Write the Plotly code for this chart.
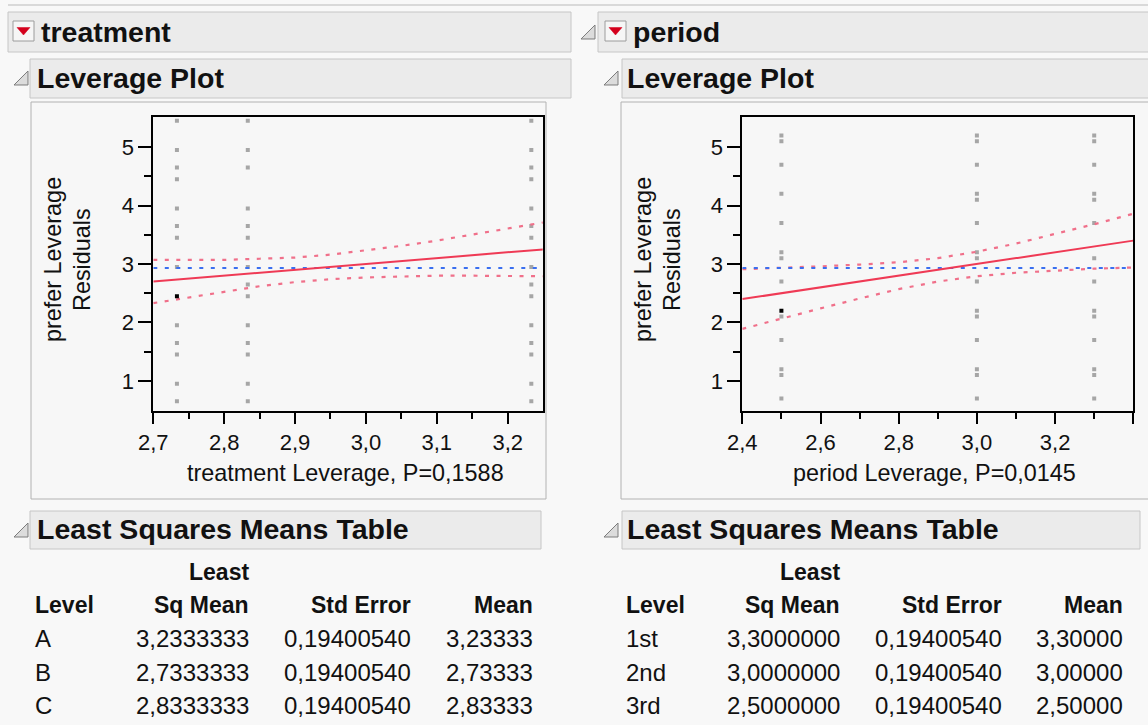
import plotly.graph_objects as go

W, H = 1148, 725
FONT = "Liberation Sans, Arial, sans-serif"


def px(x):
    return x / W


def py(y):
    return 1 - y / H


# ---------------- data ----------------
# treatment leverage plot: x positions of the three levels (B, C, A least squares means)
treat_x_levels = [2.7333333, 2.8333333, 3.2333333]
treat_points_B = [5.45, 4.95, 4.65, 4.45, 3.95, 3.65, 3.45, 2.95, 1.95, 1.65, 1.45, 0.95, 0.65]
treat_points_C = [5.45, 4.95, 4.65, 3.95, 3.65, 3.45, 2.95, 2.65, 2.45, 1.95, 1.65, 1.45, 0.95, 0.65]
treat_points_A = [5.45, 4.95, 4.65, 4.45, 3.95, 3.65, 3.45, 2.95, 2.65, 2.45, 1.95, 1.65, 1.45, 0.95, 0.65]
treat_sel_x = [2.7333333]
treat_sel_y = [2.45]
treat_fit_x = [2.70, 3.25]
treat_fit_y = [2.70, 3.25]
treat_mean_y = 2.9333333
treat_ci_x = [2.70, 2.75, 2.80, 2.85, 2.90, 2.95, 3.00, 3.05, 3.10, 3.15, 3.20, 3.25]
treat_ci_upper = [3.07, 3.07, 3.07, 3.09, 3.11, 3.16, 3.23, 3.31, 3.40, 3.50, 3.61, 3.71]
treat_ci_lower = [2.33, 2.43, 2.53, 2.62, 2.69, 2.74, 2.77, 2.79, 2.80, 2.80, 2.79, 2.79]
treat_p = 0.1588

# period leverage plot: x positions of the three levels (3rd, 2nd, 1st)
period_x_levels = [2.5, 3.0, 3.3]
period_points_3rd = [5.2, 5.1, 4.7, 4.2, 3.7, 3.2, 3.1, 2.7, 2.1, 1.7, 1.2, 1.1, 0.7]
period_points_2nd = [5.2, 5.1, 4.7, 4.2, 4.1, 3.7, 3.2, 3.1, 2.7, 2.2, 2.1, 1.7, 1.2, 1.1, 0.7]
period_points_1st = [5.2, 5.1, 4.7, 4.2, 4.1, 3.7, 3.1, 2.7, 2.2, 2.1, 1.7, 1.2, 1.1, 0.7]
period_sel_x = [2.5]
period_sel_y = [2.2]
period_fit_x = [2.4, 3.4]
period_fit_y = [2.4, 3.4]
period_mean_y = 2.9333333
period_ci_x = [2.4, 2.5, 2.6, 2.7, 2.8, 2.9, 3.0, 3.1, 3.2, 3.3, 3.4]
period_ci_upper = [2.91, 2.93, 2.96, 2.99, 3.03, 3.10, 3.21, 3.35, 3.51, 3.68, 3.86]
period_ci_lower = [1.89, 2.07, 2.24, 2.41, 2.57, 2.70, 2.79, 2.85, 2.89, 2.92, 2.94]
period_p = 0.0145

# axis ticks
y_tickvals = [1, 2, 3, 4, 5]
y_ticktext = ["1", "2", "3", "4", "5"]
treat_tickvals = [2.7, 2.8, 2.9, 3.0, 3.1, 3.2]
treat_ticktext = ["2,7", "2,8", "2,9", "3,0", "3,1", "3,2"]
period_tickvals = [2.4, 2.6, 2.8, 3.0, 3.2, 3.4]
period_ticktext = ["2,4", "2,6", "2,8", "3,0", "3,2", "3,4"]

# least squares means tables
treat_levels = ["A", "B", "C"]
treat_lsmean = [3.2333333, 2.7333333, 2.8333333]
treat_stderr = [0.19400540, 0.19400540, 0.19400540]
treat_mean = [3.23333, 2.73333, 2.83333]
period_levels = ["1st", "2nd", "3rd"]
period_lsmean = [3.3000000, 3.0000000, 2.5000000]
period_stderr = [0.19400540, 0.19400540, 0.19400540]
period_mean = [3.30000, 3.00000, 2.50000]


def comma(v, nd):
    return f"{v:.{nd}f}".replace(".", ",")


# ---------------- figure ----------------
fig = go.Figure()

GRAY_PT = "#a6a6a6"
RED = "#ef3a55"
RED_DOT = "#f0708a"
BLUE = "#3a6ff0"
DASH = "4px,7.5px"


def add_panel(xa, ya, xlev, cols, selx, sely, fitx, fity, meany, cix, ciu, cil):
    xs, ys = [], []
    for xv, col in zip(xlev, cols):
        xs += [xv] * len(col)
        ys += col
    fig.add_trace(go.Scatter(x=xs, y=ys, mode="markers", xaxis=xa, yaxis=ya,
                             marker=dict(symbol="square", size=4, color=GRAY_PT, line=dict(width=0)),
                             showlegend=False, hoverinfo="skip"))
    fig.add_trace(go.Scatter(x=cix, y=ciu, mode="lines", xaxis=xa, yaxis=ya,
                             line=dict(color=RED_DOT, width=2.2, dash=DASH), showlegend=False))
    fig.add_trace(go.Scatter(x=cix, y=cil, mode="lines", xaxis=xa, yaxis=ya,
                             line=dict(color=RED_DOT, width=2.2, dash=DASH), showlegend=False))
    fig.add_trace(go.Scatter(x=[fitx[0], fitx[-1]], y=[meany, meany], mode="lines", xaxis=xa, yaxis=ya,
                             line=dict(color=BLUE, width=2, dash=DASH), showlegend=False))
    fig.add_trace(go.Scatter(x=fitx, y=fity, mode="lines", xaxis=xa, yaxis=ya,
                             line=dict(color=RED, width=2), showlegend=False))
    fig.add_trace(go.Scatter(x=selx, y=sely, mode="markers", xaxis=xa, yaxis=ya,
                             marker=dict(symbol="square", size=4, color="black", line=dict(width=0)),
                             showlegend=False))


add_panel("x", "y", treat_x_levels, [treat_points_B, treat_points_C, treat_points_A],
          treat_sel_x, treat_sel_y, treat_fit_x, treat_fit_y, treat_mean_y,
          treat_ci_x, treat_ci_upper, treat_ci_lower)
add_panel("x2", "y2", period_x_levels, [period_points_3rd, period_points_2nd, period_points_1st],
          period_sel_x, period_sel_y, period_fit_x, period_fit_y, period_mean_y,
          period_ci_x, period_ci_upper, period_ci_lower)

PLOT_TOP, PLOT_BOT = 117.3, 410.7
axis_common = dict(showline=True, linecolor="black", linewidth=2, mirror=True,
                   ticks="outside", tickcolor="black", tickwidth=2, showgrid=False,
                   zeroline=False, fixedrange=True, automargin=False,
                   tickfont=dict(family=FONT, size=22, color="#111111"))

fig.update_layout(
    width=W, height=H, margin=dict(l=0, r=0, t=0, b=0, pad=0, autoexpand=False),
    paper_bgcolor="#f8f8f8", plot_bgcolor="white",
    xaxis=dict(domain=[px(153.3), px(542.7)], range=[2.7, 3.2494], anchor="y",
               tickvals=treat_tickvals, ticktext=treat_ticktext, ticklen=11,
               minor=dict(tickvals=[2.75, 2.85, 2.95, 3.05, 3.15], ticks="outside", ticklen=6,
                          tickwidth=2, tickcolor="black"),
               **axis_common),
    yaxis=dict(domain=[py(PLOT_BOT), py(PLOT_TOP)], range=[0.49, 5.51], anchor="x",
               tickvals=y_tickvals, ticktext=y_ticktext, ticklen=13,
               minor=dict(tickvals=[1.5, 2.5, 3.5, 4.5], ticks="outside", ticklen=7,
                          tickwidth=2, tickcolor="black"),
               **axis_common),
    xaxis2=dict(domain=[px(742.3), px(1133.3)], range=[2.4, 3.4], anchor="y2",
                tickvals=period_tickvals, ticktext=period_ticktext, ticklen=11,
                minor=dict(tickvals=[2.5, 2.7, 2.9, 3.1, 3.3], ticks="outside", ticklen=6,
                           tickwidth=2, tickcolor="black"),
                **axis_common),
    yaxis2=dict(domain=[py(PLOT_BOT), py(PLOT_TOP)], range=[0.49, 5.51], anchor="x2",
                tickvals=y_tickvals, ticktext=y_ticktext, ticklen=13,
                minor=dict(tickvals=[1.5, 2.5, 3.5, 4.5], ticks="outside", ticklen=7,
                           tickwidth=2, tickcolor="black"),
                **axis_common),
)

# ---------------- chrome (boxes, toggles) ----------------
shapes = []
HDR_FILL, HDR_LINE = "#ebebeb", "#c6c6c6"


def rect(x0, y0, x1, y1, fill, line, lw=1, layer="below"):
    shapes.append(dict(type="rect", xref="paper", yref="paper",
                       x0=px(x0), x1=px(x1), y0=py(y1), y1=py(y0),
                       fillcolor=fill, line=dict(color=line, width=lw), layer=layer))


def path(points, fill, line, lw=1):
    d = "M " + " L ".join(f"{px(a):.5f},{py(b):.5f}" for a, b in points) + " Z"
    shapes.append(dict(type="path", xref="paper", yref="paper", path=d,
                       fillcolor=fill, line=dict(color=line, width=lw), layer="above"))


def toggle(x, y):
    # outline disclosure triangle (open state)
    path([(x, y + 14), (x + 14, y + 14), (x + 14, y)], "#dcdcdc", "#7c7c7c", 1)


def red_icon(x, y):
    rect(x, y, x + 21, y + 20, "#f6f6f6", "#9c9c9c", 1, layer="above")
    path([(x + 4, y + 6.5), (x + 17, y + 6.5), (x + 10.5, y + 14)], "#d4001c", "#d4001c", 0.5)


shapes.append(dict(type="line", xref="paper", yref="paper", x0=px(8), x1=px(1148), y0=py(5), y1=py(5),
                   line=dict(color="#cfcfcf", width=1.5), layer="below"))

# outline headers
rect(8, 12, 571, 52, HDR_FILL, HDR_LINE)
rect(598, 12, 1170, 52, HDR_FILL, HDR_LINE)
rect(30, 59, 571, 98, HDR_FILL, HDR_LINE)
rect(622, 59, 1170, 98, HDR_FILL, HDR_LINE)
# plot frames
rect(31, 102, 546, 499, "#f7f7f7", "#b2b2b2")
rect(621, 102, 1170, 499, "#f7f7f7", "#b2b2b2")
# table headers
rect(30, 511, 541, 549, HDR_FILL, HDR_LINE)
rect(622, 511, 1140, 549, HDR_FILL, HDR_LINE)

toggle(581, 25)
toggle(14, 71)
toggle(604, 71)
toggle(14, 523)
toggle(604, 523)
red_icon(13, 21)
red_icon(605, 21)

fig.update_layout(shapes=shapes)

# ---------------- text ----------------
ann = []
PAD = 3  # annotation box padding compensation


def text(x, y, s, size, bold=False, anchor="left", color="#111111", angle=0):
    if bold:
        s = f"<b>{s}</b>"
    if anchor == "left":
        x -= PAD
    elif anchor == "right":
        x += PAD
    ann.append(dict(x=px(x), y=py(y), xref="paper", yref="paper", text=s, showarrow=False,
                    xanchor=anchor, yanchor="middle", textangle=angle,
                    font=dict(family=FONT, size=size, color=color)))


HB = 28.5   # outline header size
TB = 23     # table header size (bold)
TV = 24     # table values / axis titles

text(42, 32, "treatment", HB, bold=True)
text(634, 32, "period", HB, bold=True)
text(38, 78, "Leverage Plot", HB, bold=True)
text(628, 78, "Leverage Plot", HB, bold=True)
text(38, 529, "Least Squares Means Table", HB, bold=True)
text(628, 529, "Least Squares Means Table", HB, bold=True)

# axis titles
for xl, xr in [(53, 82), (643, 672)]:
    text(xl, 260, "prefer Leverage", 23.4, anchor="center", angle=-90)
    text(xr, 260, "Residuals", 23.4, anchor="center", angle=-90)
text(345.5, 473, f"treatment Leverage, P={comma(treat_p, 4)}", 23.4, anchor="center")
text(934, 473, f"period Leverage, P={comma(period_p, 4)}", 23.4, anchor="center")


def table(xl, c1, c2, c3, levels, lsm, se, mn):
    text(c1, 572, "Least", TB, bold=True, anchor="right")
    text(xl, 605, "Level", TB, bold=True)
    text(c1, 605, "Sq Mean", TB, bold=True, anchor="right")
    text(c2, 605, "Std Error", TB, bold=True, anchor="right")
    text(c3, 605, "Mean", TB, bold=True, anchor="right")
    for i, yy in enumerate([638, 672, 705]):
        text(xl, yy, levels[i], TV)
        text(c1, yy, comma(lsm[i], 7), TV, anchor="right")
        text(c2, yy, comma(se[i], 8), TV, anchor="right")
        text(c3, yy, comma(mn[i], 5), TV, anchor="right")


table(36, 248, 410, 532, treat_levels, treat_lsmean, treat_stderr, treat_mean)
table(627, 839, 1001, 1122, period_levels, period_lsmean, period_stderr, period_mean)

fig.update_layout(annotations=ann)

fig.write_html("out.html")
